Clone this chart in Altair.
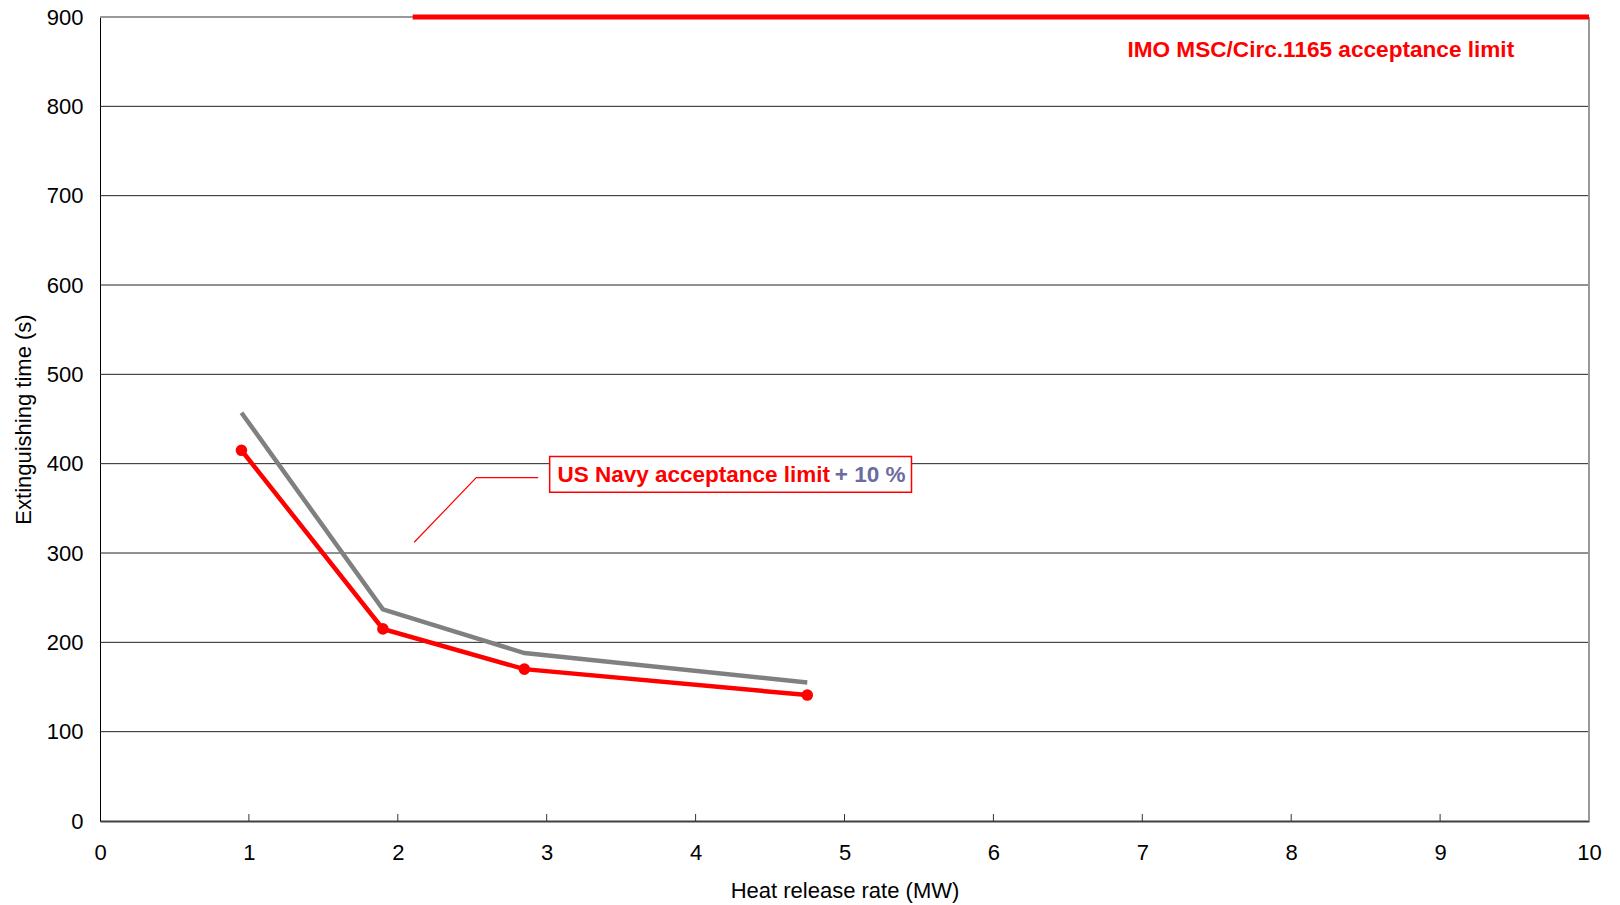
import altair as alt
import pandas as pd

# ---- data ----
hrr = [0.95, 1.9, 2.85, 4.75]                 # Heat release rate (MW)
ext_time = [415, 215, 170, 141]               # Extinguishing time (s) - red series
ext_time_plus10 = [457, 237, 188, 155]        # US Navy acceptance limit + 10 % - grey series

imo_limit = 900                               # IMO MSC/Circ.1165 acceptance limit
imo_start = 2.1
x_ticks = list(range(0, 11))
y_ticks = list(range(0, 1000, 100))

# annotation geometry (data units)
leader_x = [2.11, 2.527, 2.943]
leader_y = [312, 384.3, 384.3]
box = {"x": 3.02, "x2": 5.45, "y": 368, "y2": 408}

FONT = "Liberation Sans"
RED = "#ff0000"
GREY = "#808080"

xs = alt.Scale(domain=[0, 10], nice=False)
ys = alt.Scale(domain=[0, 900], nice=False)

df_red = pd.DataFrame({"x": hrr, "y": ext_time})
df_grey = pd.DataFrame({"x": hrr, "y": ext_time_plus10})

x_axis = alt.Axis(values=x_ticks, format="d", title="Heat release rate (MW)", grid=False, ticks=False,
                  labelFontSize=22, titleFontSize=22, labelFont=FONT, titleFont=FONT,
                  labelColor="black", titleColor="black", titleFontWeight="normal",
                  domainColor="#404040", domainWidth=2, labelPadding=21, titlePadding=17,
                  labelFlush=False)
y_axis = alt.Axis(values=y_ticks, format="d", title="Extinguishing time (s)", grid=False, ticks=False,
                  labelFontSize=22, titleFontSize=22, labelFont=FONT, titleFont=FONT,
                  labelColor="black", titleColor="black", titleFontWeight="normal",
                  domainColor="black", domainWidth=1, labelPadding=17, titlePadding=11,
                  labelFlush=False)

grid_df = pd.DataFrame({"y": [v for v in y_ticks if 0 < v < 900]})
grid = alt.Chart(grid_df).mark_rule(color="#222222", strokeWidth=1).encode(
    x=alt.value(0), x2=alt.value(1489),
    y=alt.Y("y:Q", scale=ys, axis=y_axis),
)

xtick_df = pd.DataFrame({"x": [v for v in x_ticks if 0 < v < 10]})
xticks = alt.Chart(xtick_df).mark_rule(color="#333333", strokeWidth=1).encode(
    x=alt.X("x:Q", scale=xs, axis=x_axis),
    y=alt.value(797), y2=alt.value(804),
)

top_border = alt.Chart(pd.DataFrame({"x": [0], "x2": [10], "y": [900]})).mark_rule(
    color="#999999", strokeWidth=2).encode(
    x=alt.X("x:Q", scale=xs), x2="x2:Q", y=alt.Y("y:Q", scale=ys))

right_border = alt.Chart(pd.DataFrame({"x": [10], "y": [0], "y2": [900]})).mark_rule(
    color="#999999", strokeWidth=2).encode(
    x=alt.X("x:Q", scale=xs), y=alt.Y("y:Q", scale=ys), y2="y2:Q")

imo_line = alt.Chart(pd.DataFrame({"x": [imo_start], "x2": [10], "y": [imo_limit]})).mark_rule(
    color=RED, strokeWidth=5).encode(
    x=alt.X("x:Q", scale=xs), x2="x2:Q", y=alt.Y("y:Q", scale=ys))

grey_line = alt.Chart(df_grey).mark_line(color=GREY, strokeWidth=4.5).encode(
    x=alt.X("x:Q", scale=xs), y=alt.Y("y:Q", scale=ys))

red_line = alt.Chart(df_red).mark_line(color=RED, strokeWidth=4.5).encode(
    x=alt.X("x:Q", scale=xs), y=alt.Y("y:Q", scale=ys))

red_pts = alt.Chart(df_red).mark_circle(color=RED, size=135, opacity=1).encode(
    x=alt.X("x:Q", scale=xs), y=alt.Y("y:Q", scale=ys))

leader = alt.Chart(pd.DataFrame({"x": leader_x, "y": leader_y, "o": [0, 1, 2]})).mark_line(
    color=RED, strokeWidth=1.2).encode(
    x=alt.X("x:Q", scale=xs), y=alt.Y("y:Q", scale=ys), order="o:Q")

box_rect = alt.Chart(pd.DataFrame([box])).mark_rect(
    fill="white", stroke=RED, strokeWidth=1.5).encode(
    x=alt.X("x:Q", scale=xs), x2="x2:Q", y=alt.Y("y:Q", scale=ys), y2="y2:Q")

navy_txt = alt.Chart(pd.DataFrame({"x": [3.072], "y": [387.7], "t": ["US Navy acceptance limit"]})).mark_text(
    align="left", baseline="middle", font=FONT, fontSize=22.5, fontWeight="bold", color=RED).encode(
    x=alt.X("x:Q", scale=xs), y=alt.Y("y:Q", scale=ys), text="t:N")

plus_txt = alt.Chart(pd.DataFrame({"x": [5.41], "y": [387.7], "t": ["+ 10 %"]})).mark_text(
    align="right", baseline="middle", font=FONT, fontSize=22.5, fontWeight="bold", color="#6b6b9f").encode(
    x=alt.X("x:Q", scale=xs), y=alt.Y("y:Q", scale=ys), text="t:N")

imo_txt = alt.Chart(pd.DataFrame({"x": [6.90], "y": [863.5], "t": ["IMO MSC/Circ.1165 acceptance limit"]})).mark_text(
    align="left", baseline="middle", font=FONT, fontSize=22.6, fontWeight="bold", color=RED).encode(
    x=alt.X("x:Q", scale=xs), y=alt.Y("y:Q", scale=ys), text="t:N")

chart = alt.layer(
    grid, xticks, top_border, right_border, imo_line,
    grey_line, red_line, red_pts, leader, box_rect, navy_txt, plus_txt, imo_txt,
).properties(
    width=1489, height=804,
    autosize=alt.AutoSizeParams(type="none"),
    padding={"left": 92, "top": 9, "right": 23, "bottom": 84},
).configure_view(stroke=None).configure(background="white")

chart.save("out.html", embed_options={"renderer": "svg", "actions": False})
